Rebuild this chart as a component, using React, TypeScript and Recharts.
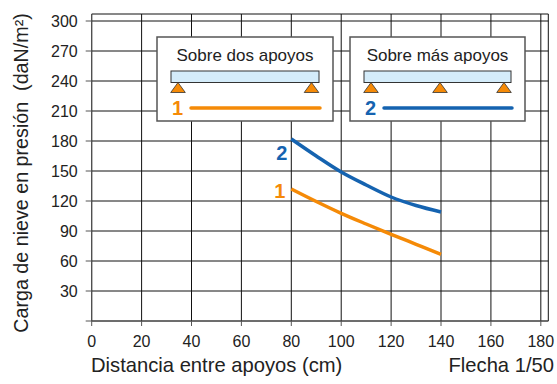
import React from 'react';
import { LineChart, Line, XAxis, YAxis, CartesianGrid } from 'recharts';

// distance between supports (cm) and snow load (daN/m2)
const distancias = [80, 90, 100, 110, 120, 130, 140];
const dosApoyos = [132, 119.5, 107.7, 97, 86.7, 76.7, 66.7];
const masApoyos = [182, 165, 149, 136, 124, 115.5, 109];

const xTicks = [0, 20, 40, 60, 80, 100, 120, 140, 160, 180];
const yTicks = [0, 30, 60, 90, 120, 150, 180, 210, 240, 270, 300];

const ORANGE = '#f58a07';
const BLUE = '#1563b0';
const FONT = '"Liberation Sans", Arial, Helvetica, sans-serif';

const data = distancias.map((d, i) => ({ d, uno: dosApoyos[i], dos: masApoyos[i] }));

function startLabel(text: string, color: string, dx: number, dy: number) {
  return (props: any) => {
    if (props.index !== 0) return <g />;
    return (
      <text
        x={props.x + dx}
        y={props.y + dy}
        textAnchor="end"
        fill={color}
        fontFamily={FONT}
        fontWeight="bold"
        fontSize={20}
      >
        {text}
      </text>
    );
  };
}

interface BoxProps {
  x: number;
  w: number;
  title: string;
  supports: number[];
  num: string;
  color: string;
}

function LegendBox({ x, w, title, supports, num, color }: BoxProps) {
  const top = 37;
  const h = 84;
  return (
    <g>
      <rect x={x} y={top} width={w} height={h} fill="#fff" stroke="#555" strokeWidth={1.5} />
      <text x={x + w / 2} y={top + 24} textAnchor="middle" fontFamily={FONT} fontSize={17} fill="#222">
        {title}
      </text>
      <rect x={x + 14} y={top + 34} width={w - 28} height={11.5} fill="#d4ecfa" stroke="#333" strokeWidth={1} />
      {supports.map((cx) => (
        <polygon
          key={cx}
          points={`${cx},${top + 45.5} ${cx - 7.3},${top + 55.5} ${cx + 7.3},${top + 55.5}`}
          fill={ORANGE}
          stroke="#333"
          strokeWidth={0.8}
        />
      ))}
      <text x={x + 15} y={top + 78} fontFamily={FONT} fontWeight="bold" fontSize={20} fill={color}>
        {num}
      </text>
      <line x1={x + 34} x2={x + w - 13} y1={top + 71} y2={top + 71} stroke={color} strokeWidth={3.5} strokeLinecap="round" />
    </g>
  );
}

export default function App() {
  return (
    <div style={{ position: 'absolute', left: 0, top: 0, width: 557, height: 384, background: '#fff' }}>
      <LineChart
        width={557}
        height={384}
        data={data}
        margin={{ top: 14, right: 8.7, bottom: 33, left: 31.7 }}
      >
        <CartesianGrid stroke="#111" strokeWidth={1} />
        <XAxis
          type="number"
          dataKey="d"
          domain={[0, 183]}
          ticks={xTicks}
          height={30}
          tickSize={5}
          tickMargin={10}
          stroke="#555"
          tick={{ fill: '#222', fontSize: 16, fontFamily: FONT }}
        />
        <YAxis
          type="number"
          domain={[0, 307]}
          ticks={yTicks}
          width={60}
          tickSize={6}
          tickMargin={8}
          stroke="#555"
          tickFormatter={(v: number) => (v === 0 ? '' : String(v))}
          tick={{ fill: '#222', fontSize: 16, fontFamily: FONT }}
        />
        <Line
          dataKey="uno"
          type="monotone"
          stroke={ORANGE}
          strokeWidth={3.5}
          dot={false}
          isAnimationActive={false}
          label={startLabel('1', ORANGE, -6, 9)}
        />
        <Line
          dataKey="dos"
          type="monotone"
          stroke={BLUE}
          strokeWidth={3.5}
          dot={false}
          isAnimationActive={false}
          label={startLabel('2', BLUE, -4, 21)}
        />
      </LineChart>
      <svg
        width={557}
        height={384}
        style={{ position: 'absolute', left: 0, top: 0, pointerEvents: 'none' }}
      >
        <LegendBox x={157} w={176} title="Sobre dos apoyos" supports={[178, 311.5]} num="1" color={ORANGE} />
        <LegendBox x={350} w={175} title="Sobre más apoyos" supports={[371, 440, 504]} num="2" color={BLUE} />
        <text
          transform="translate(28,173) rotate(-90)"
          textAnchor="middle"
          fontFamily={FONT}
          fontSize={19.7}
          fill="#222"
          style={{ whiteSpace: 'pre' }}
        >
          {'Carga de nieve en presión  (daN/m²)'}
        </text>
        <text x={91} y={372} fontFamily={FONT} fontSize={20.2} fill="#222">
          Distancia entre apoyos (cm)
        </text>
        <text x={554} y={372} textAnchor="end" fontFamily={FONT} fontSize={20.2} fill="#222">
          Flecha 1/50
        </text>
      </svg>
    </div>
  );
}
